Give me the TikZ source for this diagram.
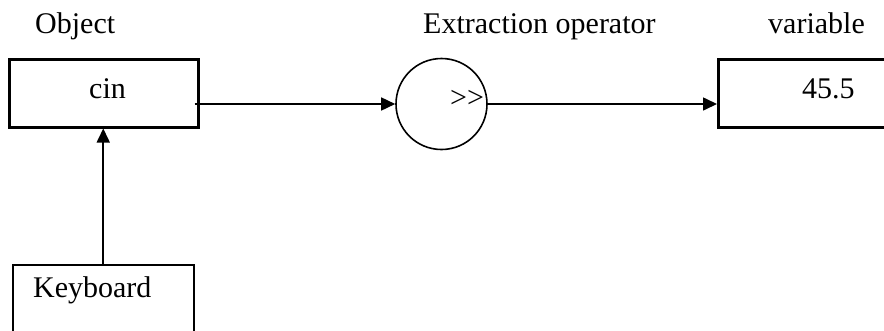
\documentclass[tikz,border=0pt]{standalone}
\usepackage{fontspec}
\setmainfont{Liberation Serif}
\usetikzlibrary{arrows.meta}
\begin{document}
\begin{tikzpicture}[x=1pt,y=-1pt,
  every node/.style={font=\fontsize{30}{36}\selectfont},
  txt/.style={inner sep=0pt, anchor=base west},
  thickbox/.style={draw, line width=3pt, inner sep=0pt},
  thinbox/.style={draw, line width=1.5pt, inner sep=0pt},
  opcircle/.style={draw, circle, line width=1.6pt, minimum size=91pt, inner sep=0pt},
  conn/.style={line width=1.6pt, -{Triangle[length=14pt,width=13pt]}}]
\useasboundingbox (0,0) rectangle (884,330);
\clip (0,0) rectangle (884,330);
% titles
\node[txt] (tobj) at (35,33) {Object};
\node[txt] (top) at (423,33) {Extraction operator};
\node[txt] (tvar) at (768,33) {variable};
% boxes
\node[thickbox, minimum width=189pt, minimum height=68pt] (cin) at (103.5,93) {};
\node[txt] (cintext) at (89,98) {cin};
\node[opcircle] (op) at (441.5,104) {};
\node[txt] (optext) at (450,107.5) {>\kern0pt>};
\node[thickbox, minimum width=240pt, minimum height=68pt, anchor=west] (var) at (717,93) {};
\node[txt] (vartext) at (802,98) {45.5};
\node[thinbox, minimum width=181pt, minimum height=120pt, anchor=north west] (kb) at (12,264) {};
\node[txt] (kbtext) at (33,297) {Keyboard};
% connectors
\coordinate (cinout) at ([xshift=-5pt]cin.east |- op.west);
\draw[conn] (cinout) -- (op.west);
\draw[conn] (op.east) -- (op.east -| var.west);
\draw[conn] (kb.north) -- (kb.north |- cin.south);
\end{tikzpicture}
\end{document}
